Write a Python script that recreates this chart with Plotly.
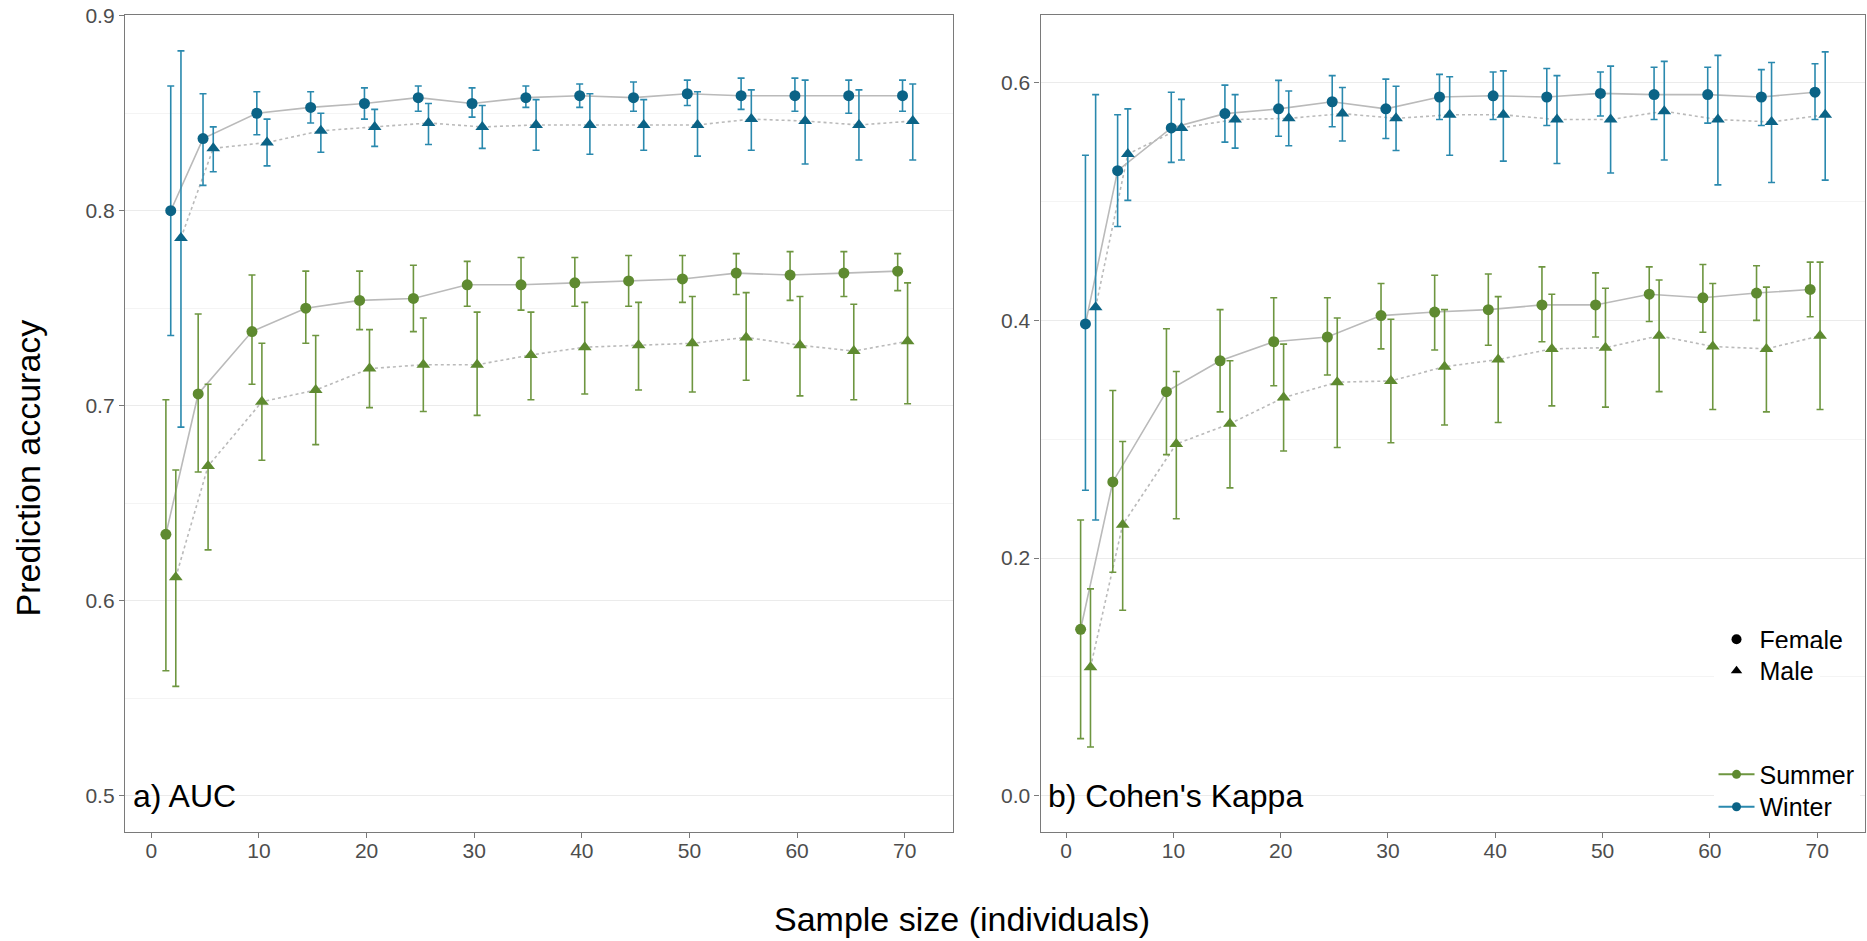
import plotly.graph_objects as go

# ---------------- data ----------------
sample_sizes = [2, 5, 10, 15, 20, 25, 30, 35, 40, 45, 50, 55, 60, 65, 70]

# a) AUC
auc_winter_f = [0.800, 0.837, 0.850, 0.853, 0.855, 0.858, 0.855, 0.858, 0.859, 0.858, 0.860, 0.859, 0.859, 0.859, 0.859]
auc_winter_f_lo = [0.736, 0.813, 0.839, 0.845, 0.847, 0.851, 0.848, 0.853, 0.853, 0.851, 0.854, 0.852, 0.851, 0.850, 0.851]
auc_winter_f_hi = [0.864, 0.860, 0.861, 0.861, 0.863, 0.864, 0.863, 0.864, 0.865, 0.866, 0.867, 0.868, 0.868, 0.867, 0.867]
auc_winter_m = [0.786, 0.832, 0.835, 0.841, 0.843, 0.845, 0.843, 0.844, 0.844, 0.844, 0.844, 0.847, 0.846, 0.844, 0.846]
auc_winter_m_lo = [0.689, 0.820, 0.823, 0.830, 0.833, 0.834, 0.832, 0.831, 0.829, 0.831, 0.828, 0.831, 0.824, 0.826, 0.826]
auc_winter_m_hi = [0.882, 0.843, 0.847, 0.850, 0.852, 0.855, 0.854, 0.857, 0.860, 0.857, 0.861, 0.862, 0.867, 0.862, 0.865]

auc_summer_f = [0.634, 0.706, 0.738, 0.750, 0.754, 0.755, 0.762, 0.762, 0.763, 0.764, 0.765, 0.768, 0.767, 0.768, 0.769]
auc_summer_f_lo = [0.564, 0.666, 0.711, 0.732, 0.739, 0.738, 0.751, 0.749, 0.751, 0.751, 0.753, 0.757, 0.754, 0.756, 0.759]
auc_summer_f_hi = [0.703, 0.747, 0.767, 0.769, 0.769, 0.772, 0.774, 0.776, 0.776, 0.777, 0.777, 0.778, 0.779, 0.779, 0.778]
auc_summer_m = [0.612, 0.669, 0.702, 0.708, 0.719, 0.721, 0.721, 0.726, 0.730, 0.731, 0.732, 0.735, 0.731, 0.728, 0.733]
auc_summer_m_lo = [0.556, 0.626, 0.672, 0.680, 0.699, 0.697, 0.695, 0.703, 0.706, 0.708, 0.707, 0.713, 0.705, 0.703, 0.701]
auc_summer_m_hi = [0.667, 0.711, 0.732, 0.736, 0.739, 0.745, 0.748, 0.748, 0.753, 0.753, 0.756, 0.758, 0.756, 0.752, 0.763]

# b) Cohen's Kappa
kap_winter_f = [0.397, 0.526, 0.562, 0.574, 0.578, 0.584, 0.578, 0.588, 0.589, 0.588, 0.591, 0.590, 0.590, 0.588, 0.592]
kap_winter_f_lo = [0.257, 0.479, 0.533, 0.550, 0.555, 0.563, 0.553, 0.569, 0.569, 0.564, 0.572, 0.569, 0.566, 0.564, 0.569]
kap_winter_f_hi = [0.539, 0.573, 0.592, 0.598, 0.602, 0.606, 0.603, 0.607, 0.609, 0.612, 0.609, 0.613, 0.613, 0.611, 0.616]
kap_winter_m = [0.411, 0.540, 0.562, 0.569, 0.570, 0.574, 0.570, 0.573, 0.573, 0.569, 0.569, 0.576, 0.569, 0.567, 0.573]
kap_winter_m_lo = [0.232, 0.501, 0.535, 0.545, 0.547, 0.551, 0.543, 0.539, 0.534, 0.532, 0.524, 0.535, 0.514, 0.516, 0.518]
kap_winter_m_hi = [0.590, 0.578, 0.586, 0.590, 0.593, 0.596, 0.597, 0.605, 0.610, 0.606, 0.614, 0.618, 0.623, 0.617, 0.626]

kap_summer_f = [0.140, 0.264, 0.340, 0.366, 0.382, 0.386, 0.404, 0.407, 0.409, 0.413, 0.413, 0.422, 0.419, 0.423, 0.426]
kap_summer_f_lo = [0.048, 0.188, 0.287, 0.323, 0.345, 0.354, 0.376, 0.375, 0.379, 0.382, 0.386, 0.399, 0.390, 0.400, 0.403]
kap_summer_f_hi = [0.232, 0.341, 0.393, 0.409, 0.419, 0.419, 0.431, 0.438, 0.439, 0.445, 0.440, 0.445, 0.447, 0.446, 0.449]
kap_summer_m = [0.108, 0.228, 0.296, 0.313, 0.335, 0.348, 0.349, 0.361, 0.367, 0.376, 0.377, 0.387, 0.378, 0.376, 0.387]
kap_summer_m_lo = [0.041, 0.156, 0.233, 0.259, 0.290, 0.293, 0.297, 0.312, 0.314, 0.328, 0.327, 0.340, 0.325, 0.323, 0.325]
kap_summer_m_hi = [0.174, 0.298, 0.357, 0.366, 0.380, 0.402, 0.401, 0.409, 0.420, 0.422, 0.427, 0.434, 0.431, 0.428, 0.449]

panel_labels = ["a) AUC", "b) Cohen's Kappa"]
x_ticks = [0, 10, 20, 30, 40, 50, 60, 70]

# ---------------- style / layout geometry (pixels) ----------------
W, H = 1867, 941
PL, PR, PT, PB = 124.8, 1865.0, 15.0, 831.7   # outer plotting box
PW, PH = PR - PL, PB - PT


def px_x(px):
    return (px - PL) / PW


def px_y(py):
    return (PB - py) / PH


FONT = "Liberation Sans, Arial, sans-serif"
COL = {"Summer": {"pt": "#5E8A30", "bar": "#6E9640"},
       "Winter": {"pt": "#0B6386", "bar": "#2A89AE"}}
SYMBOL = {"Female": "circle", "Male": "triangle-up"}
MSIZE = {"Female": 11, "Male": 12}
DASH = {"Female": "solid", "Male": "dot"}
DODGE = {("Summer", "Female"): -0.65, ("Winter", "Female"): -0.2,
         ("Summer", "Male"): 0.27, ("Winter", "Male"): 0.75}
LINE_COL = "#BABABA"

panels = [
    {"xa": "x", "ya": "y", "series": {
        ("Summer", "Female"): (auc_summer_f, auc_summer_f_lo, auc_summer_f_hi),
        ("Summer", "Male"): (auc_summer_m, auc_summer_m_lo, auc_summer_m_hi),
        ("Winter", "Female"): (auc_winter_f, auc_winter_f_lo, auc_winter_f_hi),
        ("Winter", "Male"): (auc_winter_m, auc_winter_m_lo, auc_winter_m_hi)}},
    {"xa": "x2", "ya": "y2", "series": {
        ("Summer", "Female"): (kap_summer_f, kap_summer_f_lo, kap_summer_f_hi),
        ("Summer", "Male"): (kap_summer_m, kap_summer_m_lo, kap_summer_m_hi),
        ("Winter", "Female"): (kap_winter_f, kap_winter_f_lo, kap_winter_f_hi),
        ("Winter", "Male"): (kap_winter_m, kap_winter_m_lo, kap_winter_m_hi)}},
]

fig = go.Figure()

for p in panels:
    for (season, sex), (vals, lo, hi) in p["series"].items():
        xs = [n + DODGE[(season, sex)] for n in sample_sizes]
        fig.add_trace(go.Scatter(
            x=xs, y=vals, mode="lines", xaxis=p["xa"], yaxis=p["ya"],
            line=dict(color=LINE_COL, width=1.6, dash=DASH[sex]),
            showlegend=False, hoverinfo="skip"))
    for (season, sex), (vals, lo, hi) in p["series"].items():
        xs = [n + DODGE[(season, sex)] for n in sample_sizes]
        fig.add_trace(go.Scatter(
            x=xs, y=vals, mode="markers", xaxis=p["xa"], yaxis=p["ya"],
            marker=dict(color=COL[season]["pt"], symbol=SYMBOL[sex], size=MSIZE[sex],
                        line=dict(width=0)),
            error_y=dict(type="data", symmetric=False,
                         array=[h - v for h, v in zip(hi, vals)],
                         arrayminus=[v - l for v, l in zip(vals, lo)],
                         color=COL[season]["bar"], thickness=1.6, width=3.5),
            showlegend=False, name=f"{season} {sex}"))

# legend entries: one legend per row for exact placement
legend_rows = [("Female", "legend", 639.3), ("Male", "legend2", 670.7),
               ("Summer", "legend3", 774.3), ("Winter", "legend4", 806.7)]
for name, lg, _ in legend_rows:
    if name in SYMBOL:
        fig.add_trace(go.Scatter(x=[None], y=[None], mode="markers", name=name,
                                 marker=dict(color="black", symbol=SYMBOL[name], size=10),
                                 legend=lg, xaxis="x2", yaxis="y2"))
    else:
        fig.add_trace(go.Scatter(x=[None], y=[None], mode="lines+markers", name=name,
                                 marker=dict(color=COL[name]["pt"], symbol="circle", size=9),
                                 line=dict(color=COL[name]["bar"], width=2),
                                 legend=lg, xaxis="x2", yaxis="y2"))

axis_common = dict(showline=True, mirror=True, linecolor="#7A7A7A", linewidth=1.3,
                   ticks="outside", ticklen=5, tickcolor="#7A7A7A", tickwidth=1.2,
                   tickfont=dict(family=FONT, size=21, color="#4D4D4D"),
                   zeroline=False, automargin=False)

legend_font = dict(family=FONT, size=25, color="black")
legends = {}
for name, lg, ypx in legend_rows:
    legends[lg] = dict(x=px_x(1713.5), y=px_y(ypx), xanchor="left", yanchor="middle",
                       bgcolor="white", borderwidth=0, itemwidth=36,
                       font=legend_font, tracegroupgap=0)

fig.update_layout(
    width=W, height=H, autosize=False,
    margin=dict(l=PL, r=W - PR, t=PT, b=H - PB, pad=0),
    paper_bgcolor="white", plot_bgcolor="white",
    font=dict(family=FONT, color="black"),
    xaxis=dict(domain=[0, px_x(953.0)], range=[-2.45, 74.5], tickvals=x_ticks,
               showgrid=False, anchor="y", ticklabelstandoff=-5, **axis_common),
    yaxis=dict(domain=[0, 1], range=[0.4813, 0.9004],
               tick0=0.5, dtick=0.1, tickformat=".1f", anchor="x",
               showgrid=True, gridcolor="#EBEBEB", gridwidth=1.2,
               minor=dict(dtick=0.05, tick0=0.5, showgrid=True, gridcolor="#F4F4F4",
                          gridwidth=1, ticks=""),
               **axis_common),
    xaxis2=dict(domain=[px_x(1040.5), 1], range=[-2.38, 74.46], tickvals=x_ticks,
                showgrid=False, anchor="y2", ticklabelstandoff=-5, **axis_common),
    yaxis2=dict(domain=[0, 1], range=[-0.0306, 0.657],
                tick0=0, dtick=0.2, tickformat=".1f", anchor="x2",
                showgrid=True, gridcolor="#EBEBEB", gridwidth=1.2,
                minor=dict(dtick=0.1, tick0=0, showgrid=True, gridcolor="#F4F4F4",
                           gridwidth=1, ticks=""),
                **axis_common),
    annotations=[
        dict(text=panel_labels[0], x=-1.9, y=0.5, xref="x", yref="y",
             xanchor="left", yanchor="middle", showarrow=False,
             font=dict(family=FONT, size=32, color="black")),
        dict(text=panel_labels[1], x=-1.85, y=0.0, xref="x2", yref="y2",
             xanchor="left", yanchor="middle", showarrow=False,
             font=dict(family=FONT, size=32, color="black")),
        dict(text="Sample size (individuals)", x=px_x(962), y=px_y(919),
             xref="paper", yref="paper", xanchor="center", yanchor="middle",
             showarrow=False, font=dict(family=FONT, size=34, color="black")),
        dict(text="Prediction accuracy", x=px_x(28), y=px_y(468),
             xref="paper", yref="paper", xanchor="center", yanchor="middle",
             textangle=-90, showarrow=False,
             font=dict(family=FONT, size=34, color="black")),
    ],
)
fig.update_layout(**legends)

post = ("document.documentElement.style.margin='0';"
        "document.documentElement.style.overflow='hidden';"
        "document.body.style.margin='0';"
        "document.body.style.overflow='hidden';"
        "Plotly.relayout(document.getElementById('{plot_id}'), {width: 1867, height: 941});")

fig.write_html("out.html", post_script=post, config={"displayModeBar": False})
